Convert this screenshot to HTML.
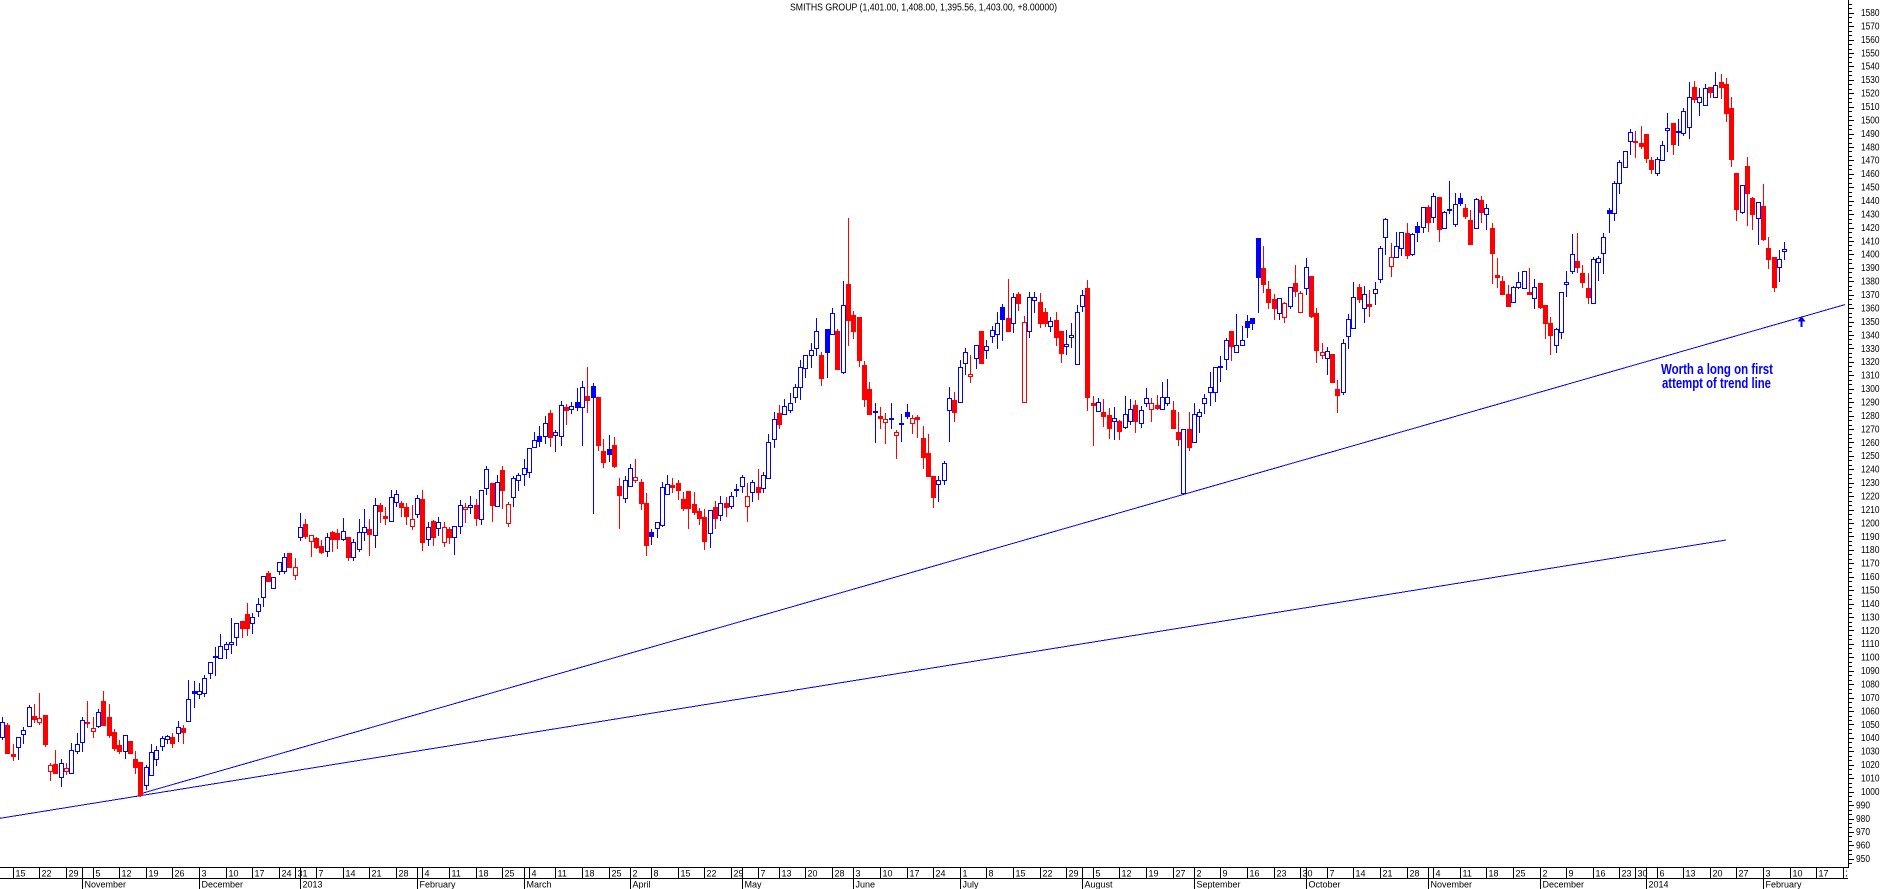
<!DOCTYPE html>
<html><head><meta charset="utf-8">
<style>
html,body{margin:0;padding:0;background:#fff;width:1883px;height:889px;overflow:hidden;}
svg{display:block;}
text{font-family:"Liberation Sans",Arial,sans-serif;}
.yl{font-size:10px;fill:#000;}
.dl{font-size:9px;fill:#000;}
</style></head>
<body>
<svg id="c" xmlns="http://www.w3.org/2000/svg" width="1883" height="889" viewBox="0 0 1883 889">
<defs><clipPath id="clipd"><rect x="0" y="860" width="1847" height="29"/></clipPath></defs>
<rect width="1883" height="889" fill="#fff"/>
<g id="lines" shape-rendering="crispEdges">
 <line x1="0" y1="818.3" x2="1726" y2="540" stroke="#0000ff" stroke-width="1"/>
 <line x1="141" y1="793.6" x2="1845" y2="304.6" stroke="#0000ff" stroke-width="1"/>
</g>
<g id="candles" shape-rendering="crispEdges"></g>
<g id="axes" shape-rendering="crispEdges"></g>
<!-- arrow -->
<polygon points="1801.5,316 1797.5,321.5 1805.5,321.5" fill="#0000ff"/>
<rect x="1800.5" y="320" width="2" height="7" fill="#0000ff"/>
<!-- title -->
<text x="790" y="10.7" font-size="10" fill="#000" textLength="267" lengthAdjust="spacingAndGlyphs">SMITHS GROUP (1,401.00, 1,408.00, 1,395.56, 1,403.00, +8.00000)</text>
<!-- annotation -->
<text x="1661" y="374" font-size="14.5" font-weight="bold" fill="#0000ff" textLength="112" lengthAdjust="spacingAndGlyphs">Worth a long on first</text>
<text x="1662" y="388" font-size="14.5" font-weight="bold" fill="#0000ff" textLength="109" lengthAdjust="spacingAndGlyphs">attempt of trend line</text>
<!-- y labels -->
<g class="yl">
<text x="1861" y="16.0" textLength="18.5" lengthAdjust="spacingAndGlyphs">1580</text>
<text x="1861" y="29.4" textLength="18.5" lengthAdjust="spacingAndGlyphs">1570</text>
<text x="1861" y="42.9" textLength="18.5" lengthAdjust="spacingAndGlyphs">1560</text>
<text x="1861" y="56.3" textLength="18.5" lengthAdjust="spacingAndGlyphs">1550</text>
<text x="1861" y="69.7" textLength="18.5" lengthAdjust="spacingAndGlyphs">1540</text>
<text x="1861" y="83.2" textLength="18.5" lengthAdjust="spacingAndGlyphs">1530</text>
<text x="1861" y="96.6" textLength="18.5" lengthAdjust="spacingAndGlyphs">1520</text>
<text x="1861" y="110.0" textLength="18.5" lengthAdjust="spacingAndGlyphs">1510</text>
<text x="1861" y="123.4" textLength="18.5" lengthAdjust="spacingAndGlyphs">1500</text>
<text x="1861" y="136.9" textLength="18.5" lengthAdjust="spacingAndGlyphs">1490</text>
<text x="1861" y="150.3" textLength="18.5" lengthAdjust="spacingAndGlyphs">1480</text>
<text x="1861" y="163.7" textLength="18.5" lengthAdjust="spacingAndGlyphs">1470</text>
<text x="1861" y="177.2" textLength="18.5" lengthAdjust="spacingAndGlyphs">1460</text>
<text x="1861" y="190.6" textLength="18.5" lengthAdjust="spacingAndGlyphs">1450</text>
<text x="1861" y="204.0" textLength="18.5" lengthAdjust="spacingAndGlyphs">1440</text>
<text x="1861" y="217.5" textLength="18.5" lengthAdjust="spacingAndGlyphs">1430</text>
<text x="1861" y="230.9" textLength="18.5" lengthAdjust="spacingAndGlyphs">1420</text>
<text x="1861" y="244.3" textLength="18.5" lengthAdjust="spacingAndGlyphs">1410</text>
<text x="1861" y="257.7" textLength="18.5" lengthAdjust="spacingAndGlyphs">1400</text>
<text x="1861" y="271.2" textLength="18.5" lengthAdjust="spacingAndGlyphs">1390</text>
<text x="1861" y="284.6" textLength="18.5" lengthAdjust="spacingAndGlyphs">1380</text>
<text x="1861" y="298.0" textLength="18.5" lengthAdjust="spacingAndGlyphs">1370</text>
<text x="1861" y="311.5" textLength="18.5" lengthAdjust="spacingAndGlyphs">1360</text>
<text x="1861" y="324.9" textLength="18.5" lengthAdjust="spacingAndGlyphs">1350</text>
<text x="1861" y="338.3" textLength="18.5" lengthAdjust="spacingAndGlyphs">1340</text>
<text x="1861" y="351.8" textLength="18.5" lengthAdjust="spacingAndGlyphs">1330</text>
<text x="1861" y="365.2" textLength="18.5" lengthAdjust="spacingAndGlyphs">1320</text>
<text x="1861" y="378.6" textLength="18.5" lengthAdjust="spacingAndGlyphs">1310</text>
<text x="1861" y="392.0" textLength="18.5" lengthAdjust="spacingAndGlyphs">1300</text>
<text x="1861" y="405.5" textLength="18.5" lengthAdjust="spacingAndGlyphs">1290</text>
<text x="1861" y="418.9" textLength="18.5" lengthAdjust="spacingAndGlyphs">1280</text>
<text x="1861" y="432.3" textLength="18.5" lengthAdjust="spacingAndGlyphs">1270</text>
<text x="1861" y="445.8" textLength="18.5" lengthAdjust="spacingAndGlyphs">1260</text>
<text x="1861" y="459.2" textLength="18.5" lengthAdjust="spacingAndGlyphs">1250</text>
<text x="1861" y="472.6" textLength="18.5" lengthAdjust="spacingAndGlyphs">1240</text>
<text x="1861" y="486.1" textLength="18.5" lengthAdjust="spacingAndGlyphs">1230</text>
<text x="1861" y="499.5" textLength="18.5" lengthAdjust="spacingAndGlyphs">1220</text>
<text x="1861" y="512.9" textLength="18.5" lengthAdjust="spacingAndGlyphs">1210</text>
<text x="1861" y="526.3" textLength="18.5" lengthAdjust="spacingAndGlyphs">1200</text>
<text x="1861" y="539.8" textLength="18.5" lengthAdjust="spacingAndGlyphs">1190</text>
<text x="1861" y="553.2" textLength="18.5" lengthAdjust="spacingAndGlyphs">1180</text>
<text x="1861" y="566.6" textLength="18.5" lengthAdjust="spacingAndGlyphs">1170</text>
<text x="1861" y="580.1" textLength="18.5" lengthAdjust="spacingAndGlyphs">1160</text>
<text x="1861" y="593.5" textLength="18.5" lengthAdjust="spacingAndGlyphs">1150</text>
<text x="1861" y="606.9" textLength="18.5" lengthAdjust="spacingAndGlyphs">1140</text>
<text x="1861" y="620.4" textLength="18.5" lengthAdjust="spacingAndGlyphs">1130</text>
<text x="1861" y="633.8" textLength="18.5" lengthAdjust="spacingAndGlyphs">1120</text>
<text x="1861" y="647.2" textLength="18.5" lengthAdjust="spacingAndGlyphs">1110</text>
<text x="1861" y="660.6" textLength="18.5" lengthAdjust="spacingAndGlyphs">1100</text>
<text x="1861" y="674.1" textLength="18.5" lengthAdjust="spacingAndGlyphs">1090</text>
<text x="1861" y="687.5" textLength="18.5" lengthAdjust="spacingAndGlyphs">1080</text>
<text x="1861" y="700.9" textLength="18.5" lengthAdjust="spacingAndGlyphs">1070</text>
<text x="1861" y="714.4" textLength="18.5" lengthAdjust="spacingAndGlyphs">1060</text>
<text x="1861" y="727.8" textLength="18.5" lengthAdjust="spacingAndGlyphs">1050</text>
<text x="1861" y="741.2" textLength="18.5" lengthAdjust="spacingAndGlyphs">1040</text>
<text x="1861" y="754.7" textLength="18.5" lengthAdjust="spacingAndGlyphs">1030</text>
<text x="1861" y="768.1" textLength="18.5" lengthAdjust="spacingAndGlyphs">1020</text>
<text x="1861" y="781.5" textLength="18.5" lengthAdjust="spacingAndGlyphs">1010</text>
<text x="1861" y="794.9" textLength="18.5" lengthAdjust="spacingAndGlyphs">1000</text>
<text x="1856" y="808.4" textLength="14" lengthAdjust="spacingAndGlyphs">990</text>
<text x="1856" y="821.8" textLength="14" lengthAdjust="spacingAndGlyphs">980</text>
<text x="1856" y="835.2" textLength="14" lengthAdjust="spacingAndGlyphs">970</text>
<text x="1856" y="848.7" textLength="14" lengthAdjust="spacingAndGlyphs">960</text>
<text x="1856" y="862.1" textLength="14" lengthAdjust="spacingAndGlyphs">950</text>
</g>
<!-- date labels -->
<g class="dl" clip-path="url(#clipd)">
<text x="15.5" y="876.5">15</text><text x="41.5" y="876.5">22</text><text x="68.5" y="876.5">29</text>
<text x="95.5" y="876.5">5</text><text x="121.5" y="876.5">12</text><text x="148.5" y="876.5">19</text><text x="174.5" y="876.5">26</text>
<text x="201.5" y="876.5">3</text><text x="228.5" y="876.5">10</text><text x="254.5" y="876.5">17</text><text x="281.5" y="876.5">24</text><text x="297.5" y="876.5">31</text>
<text x="318.5" y="876.5">7</text><text x="345.5" y="876.5">14</text><text x="371.5" y="876.5">21</text><text x="398.5" y="876.5">28</text>
<text x="424.5" y="876.5">4</text><text x="451.5" y="876.5">11</text><text x="478.5" y="876.5">18</text><text x="504.5" y="876.5">25</text>
<text x="531.5" y="876.5">4</text><text x="557.5" y="876.5">11</text><text x="584.5" y="876.5">18</text><text x="611.5" y="876.5">25</text>
<text x="632.5" y="876.5">2</text><text x="653.5" y="876.5">8</text><text x="680.5" y="876.5">15</text><text x="706.5" y="876.5">22</text><text x="733.5" y="876.5">29</text>
<text x="760.5" y="876.5">7</text><text x="781.5" y="876.5">13</text><text x="807.5" y="876.5">20</text><text x="834.5" y="876.5">28</text>
<text x="855.5" y="876.5">3</text><text x="882.5" y="876.5">10</text><text x="909.5" y="876.5">17</text><text x="935.5" y="876.5">24</text>
<text x="962.5" y="876.5">1</text><text x="988.5" y="876.5">8</text><text x="1015.5" y="876.5">15</text><text x="1042.5" y="876.5">22</text><text x="1068.5" y="876.5">29</text>
<text x="1095.5" y="876.5">5</text><text x="1121.5" y="876.5">12</text><text x="1148.5" y="876.5">19</text><text x="1175.5" y="876.5">27</text>
<text x="1196.5" y="876.5">2</text><text x="1222.5" y="876.5">9</text><text x="1249.5" y="876.5">16</text><text x="1276.5" y="876.5">23</text><text x="1302.5" y="876.5">30</text>
<text x="1329.5" y="876.5">7</text><text x="1355.5" y="876.5">14</text><text x="1382.5" y="876.5">21</text><text x="1409.5" y="876.5">28</text>
<text x="1435.5" y="876.5">4</text><text x="1462.5" y="876.5">11</text><text x="1488.5" y="876.5">18</text><text x="1515.5" y="876.5">25</text>
<text x="1542.5" y="876.5">2</text><text x="1568.5" y="876.5">9</text><text x="1595.5" y="876.5">16</text><text x="1621.5" y="876.5">23</text><text x="1637.5" y="876.5">30</text>
<text x="1659.5" y="876.5">6</text><text x="1685.5" y="876.5">13</text><text x="1712.5" y="876.5">20</text><text x="1738.5" y="876.5">27</text>
<text x="1765.5" y="876.5">3</text><text x="1792.5" y="876.5">10</text><text x="1818.5" y="876.5">17</text><text x="1845.5" y="876.5">24</text>
<text x="84.5" y="887.5">November</text><text x="201.5" y="887.5">December</text><text x="302.5" y="887.5">2013</text>
<text x="419.5" y="887.5">February</text><text x="526.5" y="887.5">March</text><text x="632.5" y="887.5">April</text>
<text x="744.5" y="887.5">May</text><text x="855.5" y="887.5">June</text><text x="962.5" y="887.5">July</text>
<text x="1084.5" y="887.5">August</text><text x="1196.5" y="887.5">September</text><text x="1308.5" y="887.5">October</text>
<text x="1430.5" y="887.5">November</text><text x="1542.5" y="887.5">December</text><text x="1648.5" y="887.5">2014</text>
<text x="1765.5" y="887.5">February</text>
</g>
</svg>
<script>
(function(){
var blocks=[
[530,-2,[[575,620,562,628,0],[585,668,580,668,1],[672,677,643,690,1],[620,652,620,686,0],[600,613,590,640,0],[532,587,524,587,0],[558,566,522,575,1],[565,575,490,583,2],[555,642,555,648,1],[706,724,700,750,2],[702,728,660,728,1],[700,740,688,768,0],[714,722,698,732,2],[660,728,640,728,0],[643,662,610,670,0],[570,637,560,662,0],[576,579,513,590,1],[595,602,560,622,2],[547,587,538,590,0],[513,585,483,585,1],[562,614,522,620,1],[606,654,598,660,1],[645,662,630,668,1],[616,664,616,684,0],[633,668,633,668,1],[688,710,662,728,1],[697,795,697,797,1],[712,765,705,778,0],[667,736,643,736,0],[660,688,648,705,0],[625,648,617,660,0],[618,628,615,640,0],[622,640,610,650,1],[590,610,573,632,0],[595,605,586,640,1],[508,572,450,572,0],[484,490,452,530,3],[484,493,460,505,0],[444,488,435,497,0],[396,430,396,443,0],[378,382,350,435,0],[348,383,312,383,0],[343,358,335,384,0],[337,343,265,368,0],[280,320,280,345,0],[273,293,273,322,1],[252,293,220,315,1],[262,278,250,308,0],[222,242,205,258,0],[138,202,138,227,0],[130,152,123,152,1],[142,175,140,175,0],[97,122,97,133,0],[82,122,70,130,0],[70,112,70,112,1],[112,135,85,147,2]]],
[350,54,[[532,560,490,570,0],[522,557,507,565,1],[556,572,556,618,2],[565,590,562,593,1],[588,605,570,610,1],[560,603,548,618,0],[547,567,542,603,1],[550,567,538,593,1],[544,566,505,570,0],[562,620,562,630,1],[575,620,568,630,0],[545,597,508,602,0],[532,545,478,570,0],[538,552,508,615,1],[466,554,444,590,0],[465,483,459,516,1],[498,503,472,522,1],[441,512,420,512,0],[433,457,420,468,0],[460,471,453,498,1],[472,498,460,522,1],[508,527,465,537,2],[445,493,435,500,0],[447,575,420,600,1],[532,568,515,585,0],[513,560,510,585,1],[517,533,500,555,0],[532,575,517,588,2],[538,560,530,580,1],[529,560,529,612,0],[466,529,450,548,0],[472,478,460,516,2],[465,471,437,490,0],[465,503,447,525,1],[421,506,421,522,0],[357,415,348,432,0],[400,465,400,512,1],[395,467,375,467,0],[360,420,348,473,1],[462,518,455,528,2],[384,440,378,467,0],[376,391,368,420,0],[355,372,327,405,0],[295,365,295,380,0],[271,292,246,292,0],[258,272,228,287,3],[220,258,197,278,0],[188,260,180,288,1],[247,256,240,302,0],[166,257,153,285,0],[172,180,163,222,1],[168,176,155,188,0],[156,170,113,180,3],[112,170,93,285,0],[138,150,50,185,1],[108,140,100,490,3],[141,285,141,300,1],[303,335,267,350,1],[297,311,255,333,3],[285,348,262,350,1],[408,434,383,533,1]]],
[205,115,[[826,880,814,892,0],[790,843,778,843,0],[817,826,762,830,2],[831,893,823,913,1],[895,1020,865,1050,1],[982,992,972,1018,3],[952,970,952,995,0],[845,960,832,962,0],[838,866,810,868,0],[840,845,820,862,1],[834,855,825,883,1],[882,908,862,915,1],[858,908,858,968,1],[897,920,862,928,1],[918,938,910,958,1],[936,1008,912,1033,1],[916,985,916,1026,0],[906,940,887,970,1],[893,930,873,946,0],[895,905,875,932,1],[874,904,862,908,0],[851,855,838,872,0],[817,843,810,860,0],[873,904,835,948,2],[832,862,826,887,0],[846,860,792,883,1],[810,850,800,860,0],[712,818,688,818,0],[643,703,620,725,0],[624,656,600,668,1],[604,628,582,628,0],[595,615,565,622,0],[547,577,537,592,0],[486,547,465,582,0],[450,490,450,515,0],[436,450,415,485,0],[378,428,340,450,0],[450,518,440,540,1],[372,440,372,515,3],[325,387,310,387,0],[378,491,372,491,1],[300,500,228,505,0],[237,345,38,420,1],[330,377,318,400,1],[336,464,336,482,1],[480,582,468,602,1],[552,628,530,628,1],[617,621,595,710,0],[633,638,605,670,1],[643,652,625,713,2],[640,643,595,670,3],[680,690,675,758,2],[655,658,628,708,3],[621,632,598,640,3],[640,655,630,683,2],[635,643,630,695,1],[698,755,663,788,1],[745,812,687,812,1],[813,875,813,905,1],[826,837,813,887,0]]],
[225,175,[[715,765,708,778,0],[520,555,487,648,0],[525,562,502,587,1],[425,532,405,532,0],[382,415,368,448,0],[448,453,390,470,2],[360,400,360,428,0],[318,413,318,415,1],[362,375,345,400,0],[316,332,303,352,0],[295,328,262,370,0],[245,283,238,345,3],[280,318,162,318,1],[217,295,205,322,0],[208,235,200,255,1],[292,532,272,532,2],[217,318,200,337,0],[217,226,200,260,0],[232,293,205,305,1],[262,293,250,302,1],[288,303,275,318,0],[285,335,262,360,1],[318,383,318,410,1],[358,362,315,388,0],[330,337,295,365,0],[260,418,240,418,0],[210,242,195,258,0],[188,515,165,555,1],[535,539,513,660,1],[532,557,518,557,0],[562,572,522,602,1],[570,610,548,638,1],[580,588,547,642,0],[588,617,585,642,1],[567,607,513,610,0],[553,588,522,598,0],[540,587,525,620,1],[555,595,543,605,0],[520,535,490,542,0],[533,553,520,587,2],[540,550,510,553,1],[517,553,470,553,0],[517,535,463,540,0],[555,610,528,610,1],[621,641,560,660,1],[612,805,612,808,0],[612,665,560,675,1],[568,652,535,652,0],[560,573,553,620,0],[520,533,508,565,0],[487,502,442,540,0],[425,502,425,527,0],[423,427,393,468,0],[345,403,340,433,0],[318,362,318,405,1],[360,382,268,382,0],[345,360,303,360,0],[288,307,270,335,3],[280,295,280,312,3],[40,155,40,260,3]]],
[165,235,[[310,358,242,380,1],[372,410,348,430,1],[402,428,388,463,1],[400,445,400,462,0],[415,455,410,470,2],[367,422,365,430,0],[354,378,300,392,1],[383,440,378,440,2],[305,368,280,386,0],[333,453,333,455,1],[445,555,430,590,1],[562,570,535,578,2],[558,580,545,628,0],[567,650,567,650,1],[672,690,645,742,1],[535,682,522,688,0],[463,512,447,548,0],[397,488,352,488,0],[366,402,357,410,1],[388,430,362,470,0],[417,422,375,452,1],[373,385,352,416,0],[250,342,243,352,0],[162,217,158,268,0],[277,302,235,332,2],[243,277,200,277,0],[202,250,202,270,0],[205,270,175,280,1],[208,268,205,270,0],[182,200,172,227,3],[125,187,125,200,0],[125,172,120,197,1],[92,155,85,172,0],[96,193,96,227,1],[140,188,137,188,0],[132,136,47,143,0],[118,176,85,183,0],[98,115,85,120,3],[130,152,118,160,1],[165,237,135,237,1],[102,188,98,188,0],[105,140,93,170,1],[130,148,118,192,0],[188,263,175,353,1],[330,337,280,365,1],[348,387,332,387,1],[387,422,360,422,1],[367,410,363,410,0],[352,367,320,368,0],[318,368,318,368,0],[381,386,310,386,1],[367,398,343,430,0],[354,425,354,428,1],[420,475,420,518,1],[475,510,457,567,1],[492,540,488,560,0],[382,500,382,520,0],[352,358,318,392,0],[268,318,208,325,0],[288,305,205,320,1],[325,350,300,365,1]]],
[60,296,[[685,712,638,728,1],[598,730,590,730,0],[595,607,588,660,0],[532,580,518,638,0],[450,460,443,515,3],[370,460,363,480,0],[305,370,300,400,0],[273,320,273,320,0],[217,243,208,282,0],[242,246,213,290,1],[250,257,198,265,1],[222,293,222,305,1],[300,326,290,340,1],[298,338,290,345,0],[256,300,243,300,0],[205,209,158,272,0],[190,253,188,282,1],[213,216,178,256,0],[153,220,145,225,0],[112,202,66,233,0],[82,117,63,125,1],[112,125,83,165,0],[85,136,73,136,0],[82,95,80,112,1],[75,112,37,112,0],[66,80,42,115,1],[72,160,55,183,1],[145,296,110,318,1],[340,446,340,480,1],[376,455,376,458,0],[318,398,292,495,1],[413,462,410,506,1],[427,475,427,552,0],[438,537,372,540,1],[565,596,532,625,1],[592,680,592,692,1],[598,620,570,662,0],[568,573,546,598,0]]]
];
var h='';
for(var b=0;b<blocks.length;b++){
 var oy=blocks[b][0],i0=blocks[b][1],arr=blocks[b][2];
 for(var j=0;j<arr.length;j++){
  var c=arr[j],i=i0+j;
  var col=Math.floor(13.3+5.32*i);
  var yt=Math.round(oy+c[0]/3),yb=Math.round(oy+c[1]/3),yh=Math.round(oy+c[2]/3),yl=Math.round(oy+c[3]/3);
  var ty=c[4];
  var color=(ty==0||ty==3)?'#0000ff':'#ff0000';
  var filled=(ty==1||ty==3);
  h+='<rect x="'+col+'" y="'+yh+'" width="1" height="'+Math.max(1,yl-yh+1)+'" fill="'+color+'"/>';
  if(filled){
   h+='<rect x="'+(col-2)+'" y="'+yt+'" width="5" height="'+Math.max(2,yb-yt+1)+'" fill="'+color+'"/>';
  }else{
   h+='<rect x="'+(col-1.5)+'" y="'+(yt+0.5)+'" width="4" height="'+Math.max(1,yb-yt)+'" fill="#fff" stroke="'+color+'" stroke-width="1"/>';
  }
 }
}
document.getElementById('candles').innerHTML=h;

var a='';
// vertical axis
a+='<rect x="1848" y="0" width="1" height="868" fill="#000"/>';
// ticks
for(var k=-1;k<=64;k++){
 var y=12.7+k*13.43;
 for(var m=0;m<3;m++){
  var yy=Math.round(y+m*13.43/3);
  if(yy<0||yy>866)continue;
  if(m==0) a+='<rect x="1849" y="'+yy+'" width="5" height="1" fill="#000"/>';
  else a+='<rect x="1849" y="'+yy+'" width="3" height="1" fill="#000"/>';
 }
}
// horizontal axis lines
a+='<rect x="0" y="867" width="1849" height="1" fill="#000"/>';
a+='<rect x="0" y="878" width="1848" height="1" fill="#000"/>';
var weeks=[13,39,66,93,119,146,172,199,226,252,279,295,316,343,369,396,422,449,476,502,529,555,582,609,630,651,678,704,731,758,779,805,832,853,880,907,933,960,986,1013,1040,1066,1093,1119,1146,1173,1194,1220,1247,1274,1300,1327,1353,1380,1407,1433,1460,1486,1513,1540,1566,1593,1619,1635,1657,1683,1710,1736,1763,1790,1816,1843];
for(var w=0;w<weeks.length;w++){a+='<rect x="'+weeks[w]+'" y="867" width="1" height="12" fill="#000"/>';}
var months=[82,199,300,417,524,630,742,853,960,1082,1194,1306,1428,1540,1646,1763];
for(var q=0;q<months.length;q++){a+='<rect x="'+months[q]+'" y="867" width="1" height="22" fill="#000"/>';}
document.getElementById('axes').innerHTML=a;
})();
</script>
</body></html>
